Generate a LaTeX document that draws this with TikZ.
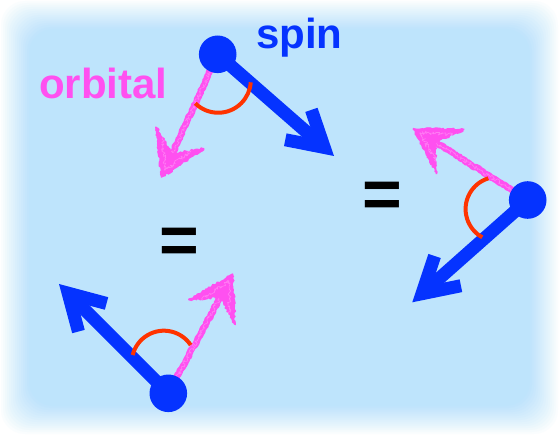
\documentclass[tikz,border=0pt]{standalone}
\usepackage{fontspec}
\setmainfont{Liberation Sans}
\usetikzlibrary{calc,decorations.pathmorphing}
\definecolor{bgblue}{RGB}{190,228,252}
\definecolor{spinblue}{RGB}{5,51,255}
\definecolor{orbpink}{RGB}{255,80,240}
\definecolor{arcred}{RGB}{255,51,0}
\newcommand{\spinarrow}[2]{%
  \coordinate (#2c) at ($(#2)!13pt!(#1)$);
  \coordinate (#2w) at ($(#2c)!39.7pt!30:(#1)$);
  \coordinate (#2v) at ($(#2c)!39.7pt!-30:(#1)$);
  \draw[spinshaft] (#1) -- (#2c);
  \draw[spinhead] (#2w) -- (#2c) -- (#2v);
}
\newcommand{\orbarrow}[2]{%
  \coordinate (#2n) at ($(#2)!26pt!(#1)$);
  \coordinate (#2w) at ($(#2)!51pt!31:(#1)$);
  \coordinate (#2v) at ($(#2)!51pt!-31:(#1)$);
  \draw[crayon] (#1) -- (#2n);
  \draw[crayonspeck] (#1) -- (#2n);
  \filldraw[crayonhead] (#2w) -- (#2) -- (#2v) -- (#2n) -- cycle;
  \draw[crayonspeck] ($(#2w)!0.4!(#2n)$) -- ($(#2)!0.3!(#2n)$) -- ($(#2v)!0.4!(#2n)$);
}
\begin{document}
\begin{tikzpicture}[x=1pt,y=-1pt,
  dotnode/.style={circle,fill=spinblue,minimum size=37.6pt,inner sep=0pt},
  spinshaft/.style={draw=spinblue,line width=13pt},
  spinhead/.style={draw=spinblue,line width=13pt,line join=miter,miter limit=10},
  crayon/.style={draw=orbpink,line width=6.5pt,line join=bevel,decorate,
    decoration={random steps,segment length=1.5pt,amplitude=0.9pt}},
  crayonhead/.style={draw=orbpink,fill=orbpink,line width=1.4pt,line join=bevel,decorate,
    decoration={random steps,segment length=1.6pt,amplitude=1.1pt}},
  crayonspeck/.style={draw=white,line width=0.6pt,opacity=0.25,line join=bevel,decorate,
    decoration={random steps,segment length=1pt,amplitude=2pt}},
  anglearc/.style={draw=arcred,line width=4pt},
  txtlabel/.style={font=\fontsize{42}{42}\selectfont\bfseries,inner sep=0pt,anchor=base west},
  eqsign/.style={font=\fontsize{68}{68}\selectfont\bfseries,inner sep=0pt,anchor=base}]
\pgfmathsetseed{11}
\useasboundingbox (0,0) rectangle (559,435);
\fill[white] (0,0) rectangle (559,435);
\foreach \k in {1,...,15}{
  \pgfmathsetmacro{\d}{2*\k-1}
  \pgfmathsetmacro{\op}{1/(16-\k)}
  \fill[bgblue,fill opacity=\op,rounded corners=24pt] (\d,\d) rectangle (559-\d,435-\d);
}
% centres and tips
\coordinate (s1) at (217.7,54.3);
\coordinate (b1) at (334,156);
\coordinate (p1) at (161.7,177.5);
\coordinate (s2) at (527.7,200);
\coordinate (b2) at (412.3,302.3);
\coordinate (p2) at (413.3,128.5);
\coordinate (s3) at (168.3,393.3);
\coordinate (b3) at (59,284);
\coordinate (p3) at (232.7,274);
% arc centres
\coordinate (a1) at (218.2,80.15);
\coordinate (a2) at (497.8,209.1);
\coordinate (a3) at (163.9,362.9);
% arrows
\orbarrow{s1}{p1}
\spinarrow{s1}{b1}
\orbarrow{s2}{p2}
\spinarrow{s2}{b2}
\orbarrow{s3}{p3}
\spinarrow{s3}{b3}
% angle arcs
\draw[anglearc] ([shift={(134.7:32.6)}]a1) arc[start angle=134.7,end angle=3.8,radius=32.6];
\draw[anglearc] ([shift={(252.9:32.2)}]a2) arc[start angle=252.9,end angle=118.8,radius=32.2];
\draw[anglearc] ([shift={(194.2:32.2)}]a3) arc[start angle=194.2,end angle=326.3,radius=32.2];
% dots
\node[dotnode] (dot1) at (s1) {};
\node[dotnode] (dot2) at (s2) {};
\node[dotnode] (dot3) at (s3) {};
% texts
\node[txtlabel,text=spinblue] (spin) at (256,48.3) {spin};
\node[txtlabel,text=orbpink] (orbital) at (39,98.3) {orbital};
\node[eqsign] (eq1) at (382,218) {=};
\node[eqsign] (eq2) at (179.7,263.2) {=};
\end{tikzpicture}
\end{document}
